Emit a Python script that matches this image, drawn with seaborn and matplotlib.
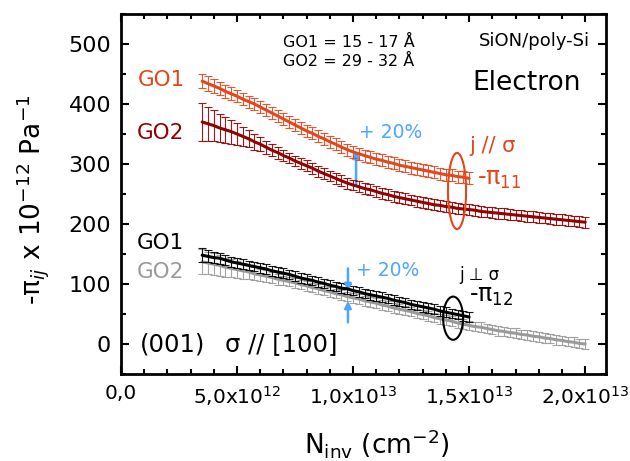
import numpy as np
import pandas as pd
import matplotlib
matplotlib.use("Agg")
import matplotlib.pyplot as plt
import seaborn as sns
from matplotlib.patches import Ellipse
from matplotlib.ticker import MultipleLocator, FixedLocator, FixedFormatter

sns.set_theme(style="ticks")
plt.rcParams['font.family'] = ['DejaVu Sans']
plt.rcParams['mathtext.fontset'] = 'dejavusans'
for k in ['text.color', 'axes.labelcolor', 'xtick.color', 'ytick.color', 'axes.edgecolor']:
    plt.rcParams[k] = 'black'

# N_inv in units of 1e12 cm^-2
x_go1 = [3.5, 3.75, 4.0, 4.25, 4.5, 4.75, 5.0, 5.25, 5.5, 5.75,
         6.0, 6.25, 6.5, 6.75, 7.0, 7.25, 7.5, 7.75, 8.0, 8.25,
         8.5, 8.75, 9.0, 9.25, 9.5, 9.75, 10.0, 10.25, 10.5, 10.75,
         11.0, 11.25, 11.5, 11.75, 12.0, 12.25, 12.5, 12.75, 13.0, 13.25,
         13.5, 13.75, 14.0, 14.25, 14.5, 14.75, 15.0]
x_go2 = [3.5, 3.75, 4.0, 4.25, 4.5, 4.75, 5.0, 5.25, 5.5, 5.75,
         6.0, 6.25, 6.5, 6.75, 7.0, 7.25, 7.5, 7.75, 8.0, 8.25,
         8.5, 8.75, 9.0, 9.25, 9.5, 9.75, 10.0, 10.25, 10.5, 10.75,
         11.0, 11.25, 11.5, 11.75, 12.0, 12.25, 12.5, 12.75, 13.0, 13.25,
         13.5, 13.75, 14.0, 14.25, 14.5, 14.75, 15.0, 15.25, 15.5, 15.75,
         16.0, 16.25, 16.5, 16.75, 17.0, 17.25, 17.5, 17.75, 18.0, 18.25,
         18.5, 18.75, 19.0, 19.25, 19.5, 19.75, 20.0]

# -pi11 (j // sigma)
pi11_go1 = [438, 434, 430, 426, 421, 417, 413, 408, 404, 400,
            395, 390, 385, 380, 375, 370, 365, 360, 355, 351,
            346, 342, 337, 333, 328, 324, 320, 317, 314, 311,
            308, 306, 303, 301, 298, 296, 294, 292, 290, 288,
            286, 284, 282, 281, 279, 278, 276]
err11_go1 = [12, 12, 11, 11, 11, 11, 10, 10, 10, 10,
             10, 10, 10, 10, 10, 10, 10, 10, 10, 10,
             10, 10, 10, 10, 10, 10, 10, 10, 10, 10,
             10, 10, 10, 10, 10, 10, 10, 10, 10, 10,
             10, 10, 10, 10, 10, 10, 10]
pi11_go2 = [370, 367, 364, 360, 357, 354, 350, 346, 342, 337,
            333, 328, 323, 319, 314, 310, 305, 301, 297, 293,
            288, 284, 280, 276, 272, 268, 265, 262, 259, 257,
            254, 251, 249, 246, 244, 242, 240, 238, 236, 234,
            232, 231, 229, 228, 226, 225, 224, 223, 221, 220,
            219, 218, 217, 216, 215, 214, 213, 212, 211, 210,
            209, 208, 207, 206, 205, 204, 203]
err11_go2 = [31, 28, 26, 24, 22, 20, 18, 16, 14, 13,
             12, 11, 10, 10, 9, 9, 9, 9, 9, 9,
             9, 9, 9, 9, 9, 9, 9, 9, 9, 9,
             9, 9, 9, 9, 9, 9, 9, 9, 9, 9,
             9, 9, 9, 9, 9, 9, 9, 9, 9, 9,
             9, 9, 9, 9, 9, 9, 9, 9, 9, 9,
             9, 9, 9, 9, 9, 9, 9]

# -pi12 (j perp sigma)
pi12_go1 = [148, 146, 144, 143, 140, 137, 135, 133, 131, 129,
            127, 125, 122, 120, 118, 116, 113, 110, 108, 106,
            103, 101, 98, 96, 93, 92, 89, 87, 84, 82,
            80, 78, 76, 73, 71, 69, 66, 64, 62, 60,
            58, 55, 53, 51, 49, 47, 45]
err12_go1 = [12, 10, 9, 9, 8, 8, 8, 8, 8, 8,
             8, 8, 8, 8, 8, 8, 8, 8, 8, 8,
             8, 8, 8, 8, 8, 8, 8, 8, 8, 8,
             8, 8, 8, 8, 8, 8, 8, 8, 8, 8,
             8, 8, 8, 8, 8, 8, 8]
pi12_go2 = [137, 135, 133, 131, 128, 126, 124, 122, 120, 117,
            115, 113, 111, 108, 106, 104, 102, 99, 97, 94,
            92, 89, 87, 84, 82, 79, 77, 75, 72, 70,
            68, 65, 63, 60, 58, 56, 54, 51, 49, 47,
            44, 42, 40, 38, 35, 33, 31, 29, 28, 26,
            24, 22, 21, 19, 18, 16, 15, 13, 12, 10,
            9, 7, 6, 4, 3, 1, 0]
err12_go2 = [21, 19, 18, 17, 16, 15, 14, 13, 12, 11,
             10, 10, 9, 9, 8, 8, 8, 8, 8, 8,
             8, 8, 8, 8, 8, 8, 8, 8, 8, 8,
             8, 8, 8, 8, 8, 8, 8, 8, 8, 8,
             8, 8, 8, 8, 8, 8, 8, 8, 8, 8,
             8, 8, 8, 8, 8, 8, 8, 8, 8, 8,
             8, 8, 8, 8, 8, 8, 8]

xtick_pos = [0, 5, 10, 15, 20]
xtick_labels = ['0,0', '5,0x10$^{12}$', '1,0x10$^{13}$', '1,5x10$^{13}$', '2,0x10$^{13}$']

c_red = '#e4461c'
c_dred = '#930000'
c_black = '#000000'
c_gray = '#9a9a9a'
c_blue = '#4da6ff'

fig = plt.figure(figsize=(6.3, 4.61), dpi=100)
ax = fig.add_axes([0.192, 0.1887, 0.770, 0.781])

series = [
    (x_go2, pi12_go2, err12_go2, c_gray),
    (x_go1, pi12_go1, err12_go1, c_black),
    (x_go2, pi11_go2, err11_go2, c_dred),
    (x_go1, pi11_go1, err11_go1, c_red),
]
for i, (x, y, e, c) in enumerate(series):
    ax.errorbar(x, y, yerr=e, fmt='none', ecolor=c, elinewidth=0.8,
                capsize=2.6, capthick=0.8, alpha=0.9, zorder=2 + i)
    df = pd.DataFrame({'x': x, 'y': y})
    sns.lineplot(data=df, x='x', y='y', color=c, lw=2.2, ax=ax, zorder=2.5 + i)

ax.set_xlim(0, 20.9)
ax.set_ylim(-50, 550)
ax.set_xlabel('')
ax.set_ylabel('')
ax.xaxis.set_major_locator(FixedLocator(xtick_pos))
ax.xaxis.set_major_formatter(FixedFormatter(xtick_labels))
ax.xaxis.set_minor_locator(MultipleLocator(1))
ax.yaxis.set_major_locator(MultipleLocator(100))
ax.yaxis.set_minor_locator(MultipleLocator(50))
ax.tick_params(which='both', direction='in', top=True, right=True, width=1.5,
               colors='black')
ax.tick_params(axis='y', labelsize=16)
ax.tick_params(axis='x', labelsize=14.5)
ax.tick_params(which='major', length=6, pad=7)
ax.tick_params(which='minor', length=3.5)
for s in ax.spines.values():
    s.set_linewidth(2)
    s.set_color('black')

# labels of the curves
ax.text(1.72, 440, 'GO1', color=c_red, fontsize=15.5, ha='center', va='center')
ax.text(1.68, 352, 'GO2', color=c_dred, fontsize=15.5, ha='center', va='center')
ax.text(1.68, 168, 'GO1', color='black', fontsize=15.5, ha='center', va='center')
ax.text(1.68, 120, 'GO2', color=c_gray, fontsize=15.5, ha='center', va='center')

ax.text(9.83, 503, 'GO1 = 15 - 17 Å', fontsize=11.5, ha='center', va='center')
ax.text(9.83, 471, 'GO2 = 29 - 32 Å', fontsize=11.5, ha='center', va='center')
ax.text(20.2, 505, 'SiON/poly-Si', fontsize=13, ha='right', va='center')
ax.text(17.46, 435, 'Electron', fontsize=19, ha='center', va='center')

ax.text(11.6, 353, '+ 20%', color=c_blue, fontsize=13.5, ha='center', va='center')
ax.text(11.5, 123, '+ 20%', color=c_blue, fontsize=13.5, ha='center', va='center')
arrow = dict(arrowstyle='-|>', color=c_blue, lw=1.8, mutation_scale=10, shrinkA=0, shrinkB=0)
ax.annotate('', xy=(10.13, 322), xytext=(10.13, 265), arrowprops=arrow)
ax.annotate('', xy=(9.78, 88), xytext=(9.78, 126), arrowprops=arrow)
ax.annotate('', xy=(9.78, 72), xytext=(9.78, 36), arrowprops=arrow)

ax.text(16.0, 330, 'j // σ', color=c_red, fontsize=15, ha='center', va='center')
ax.text(15.35, 275, r'-π$_{11}$', color=c_red, fontsize=17, ha='left', va='center')
ax.add_patch(Ellipse((14.48, 255), 0.78, 127, fill=False, ec=c_red, lw=1.5, zorder=10))

ax.text(15.43, 115, 'j ⊥ σ', color='black', fontsize=12, ha='center', va='center')
ax.text(15.0, 80, r'-π$_{12}$', color='black', fontsize=17, ha='left', va='center')
ax.add_patch(Ellipse((14.31, 43), 0.86, 72, fill=False, ec='black', lw=1.5, zorder=10))

ax.text(0.82, 0, '(001)', fontsize=17.5, ha='left', va='center')
ax.text(4.48, 0, 'σ // [100]', fontsize=17.5, ha='left', va='center')

fig.text(0.052, 0.566, r'-π$_{ij}$ x 10$^{-12}$ Pa$^{-1}$', rotation=90,
         ha='center', va='center', fontsize=19)
fig.text(0.598, 0.017, r'N$_{\mathrm{inv}}$ (cm$^{-2}$)', ha='center',
         va='baseline', fontsize=19)

fig.savefig('out.png', dpi=100)
